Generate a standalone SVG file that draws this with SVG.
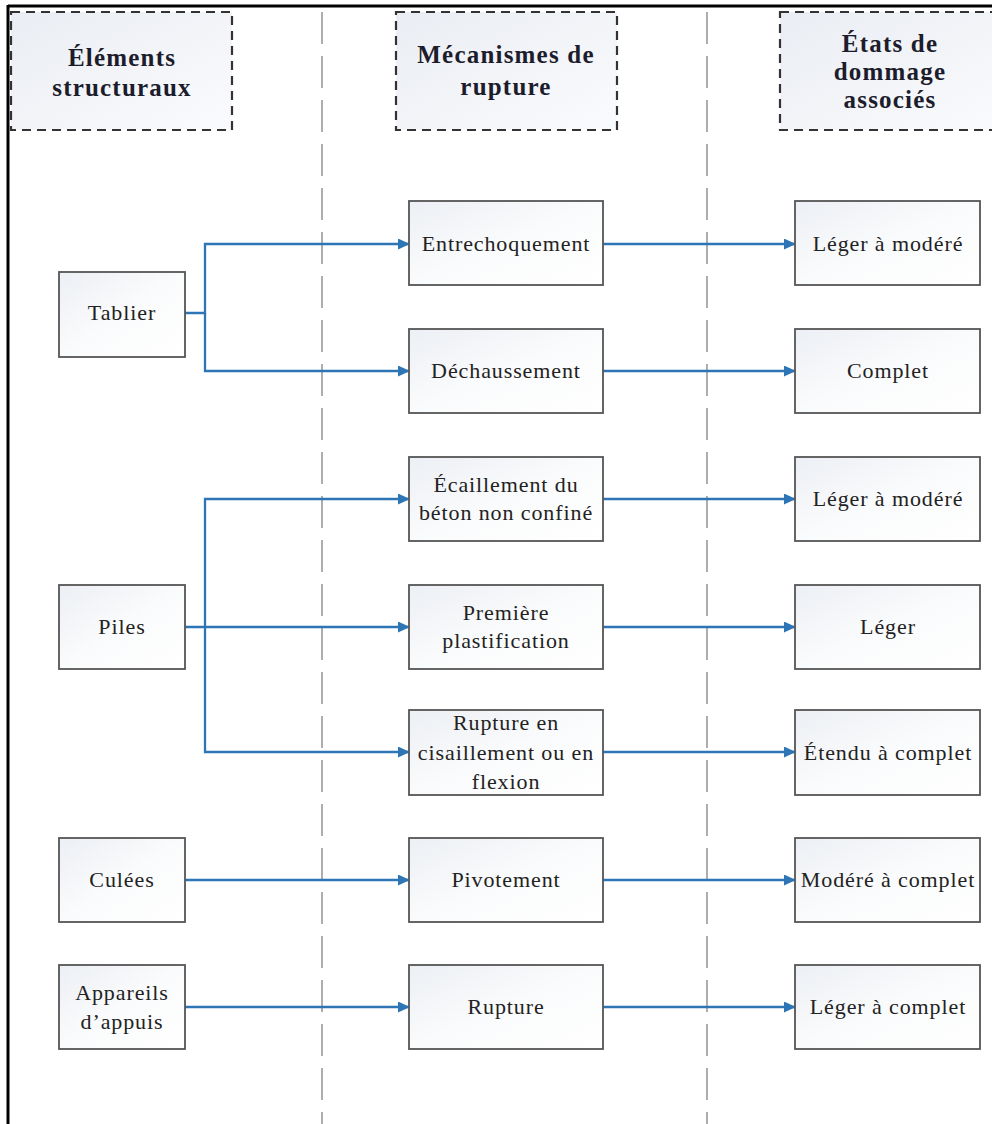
<svg xmlns="http://www.w3.org/2000/svg" width="992" height="1124" viewBox="0 0 992 1124">
<style>
.hdr{fill:url(#hg);stroke:#333;stroke-width:2.2;stroke-dasharray:9 6}
.box{fill:url(#bg);stroke:#555;stroke-width:1.8}
.ht{font-family:"Liberation Serif","Times New Roman",serif;font-weight:bold;font-size:25px;fill:#1c1c2c;text-anchor:middle;letter-spacing:1.2px}
.bt{font-family:"Liberation Serif","Times New Roman",serif;font-size:22px;fill:#222;text-anchor:middle;letter-spacing:0.9px}
.sep{stroke:#9a9a9a;stroke-width:1.6;stroke-dasharray:32 12;fill:none}
.con{stroke:#2E75B6;stroke-width:2.3;fill:none}
</style>
<defs>
<linearGradient id="bg" x1="0" y1="0" x2="1" y2="1">
<stop offset="0" stop-color="#eceff4"/>
<stop offset="0.5" stop-color="#fafbfc"/>
<stop offset="1" stop-color="#ffffff"/>
</linearGradient>
<linearGradient id="hg" x1="0" y1="0" x2="1" y2="1">
<stop offset="0" stop-color="#eaedf3"/>
<stop offset="1" stop-color="#fafbfd"/>
</linearGradient>
<marker id="ah" markerWidth="12" markerHeight="11" refX="11" refY="5.5" orient="auto" markerUnits="userSpaceOnUse">
<path d="M0,0 L12,5.5 L0,11 z" fill="#2E75B6"/>
</marker>
</defs>
<rect x="0" y="0" width="992" height="1124" fill="#ffffff"/>
<g id="frame">
<line x1="8" y1="6" x2="992" y2="6" stroke="#000" stroke-width="3"/>
<line x1="8" y1="5" x2="8" y2="1124" stroke="#000" stroke-width="3"/>
</g>
<g id="separators">
<line class="sep" x1="322" y1="12" x2="322" y2="1124"/>
<line class="sep" x1="707" y1="12" x2="707" y2="1124"/>
</g>
<g id="header-elements">
<rect class="hdr" x="11" y="12" width="221" height="118"/>
<text class="ht" x="122" y="66">Éléments</text>
<text class="ht" x="122" y="96">structuraux</text>
</g>
<g id="header-mecanismes">
<rect class="hdr" x="396" y="12" width="221" height="118"/>
<text class="ht" x="506" y="63">Mécanismes de</text>
<text class="ht" x="506" y="95">rupture</text>
</g>
<g id="header-etats">
<rect class="hdr" x="780" y="12" width="230" height="118"/>
<text class="ht" x="890" y="52">États de</text>
<text class="ht" x="890" y="80">dommage</text>
<text class="ht" x="890" y="108">associés</text>
</g>
<g id="connectors">
<polyline class="con" points="185,313 205,313 205,244 409,244" marker-end="url(#ah)"/>
<polyline class="con" points="205,313 205,371 409,371" marker-end="url(#ah)"/>
<polyline class="con" points="205,627 205,499 409,499" marker-end="url(#ah)"/>
<polyline class="con" points="185,627 409,627" marker-end="url(#ah)"/>
<polyline class="con" points="205,627 205,752 409,752" marker-end="url(#ah)"/>
<polyline class="con" points="185,880 409,880" marker-end="url(#ah)"/>
<polyline class="con" points="185,1007 409,1007" marker-end="url(#ah)"/>
<line class="con" x1="603" y1="244" x2="795" y2="244" marker-end="url(#ah)"/>
<line class="con" x1="603" y1="371" x2="795" y2="371" marker-end="url(#ah)"/>
<line class="con" x1="603" y1="499" x2="795" y2="499" marker-end="url(#ah)"/>
<line class="con" x1="603" y1="627" x2="795" y2="627" marker-end="url(#ah)"/>
<line class="con" x1="603" y1="752" x2="795" y2="752" marker-end="url(#ah)"/>
<line class="con" x1="603" y1="880" x2="795" y2="880" marker-end="url(#ah)"/>
<line class="con" x1="603" y1="1007" x2="795" y2="1007" marker-end="url(#ah)"/>
</g>
<g id="tablier"><rect class="box" x="59" y="272" width="126" height="85"/><text class="bt" x="122" y="320">Tablier</text></g>
<g id="piles"><rect class="box" x="59" y="585" width="126" height="84"/><text class="bt" x="122" y="634">Piles</text></g>
<g id="culees"><rect class="box" x="59" y="838" width="126" height="84"/><text class="bt" x="122" y="887">Culées</text></g>
<g id="appareils"><rect class="box" x="59" y="965" width="126" height="84"/><text class="bt" x="122" y="1000">Appareils</text><text class="bt" x="122" y="1029">d’appuis</text></g>
<g id="entrechoquement"><rect class="box" x="409" y="201" width="194" height="84"/><text class="bt" x="506" y="251">Entrechoquement</text></g>
<g id="dechaussement"><rect class="box" x="409" y="329" width="194" height="84"/><text class="bt" x="506" y="378">Déchaussement</text></g>
<g id="ecaillement"><rect class="box" x="409" y="457" width="194" height="84"/><text class="bt" x="506" y="492">Écaillement du</text><text class="bt" x="506" y="520">béton non confiné</text></g>
<g id="plastification"><rect class="box" x="409" y="585" width="194" height="84"/><text class="bt" x="506" y="620">Première</text><text class="bt" x="506" y="648">plastification</text></g>
<g id="rupture-cisaillement"><rect class="box" x="409" y="710" width="194" height="85"/><text class="bt" x="506" y="730">Rupture en</text><text class="bt" x="506" y="760">cisaillement ou en</text><text class="bt" x="506" y="789">flexion</text></g>
<g id="pivotement"><rect class="box" x="409" y="838" width="194" height="84"/><text class="bt" x="506" y="887">Pivotement</text></g>
<g id="rupture"><rect class="box" x="409" y="965" width="194" height="84"/><text class="bt" x="506" y="1014">Rupture</text></g>
<g id="leger-modere-1"><rect class="box" x="795" y="201" width="185" height="84"/><text class="bt" x="888" y="251">Léger à modéré</text></g>
<g id="complet"><rect class="box" x="795" y="329" width="185" height="84"/><text class="bt" x="888" y="378">Complet</text></g>
<g id="leger-modere-2"><rect class="box" x="795" y="457" width="185" height="84"/><text class="bt" x="888" y="506">Léger à modéré</text></g>
<g id="leger"><rect class="box" x="795" y="585" width="185" height="84"/><text class="bt" x="888" y="634">Léger</text></g>
<g id="etendu-complet"><rect class="box" x="795" y="710" width="185" height="85"/><text class="bt" x="888" y="760">Étendu à complet</text></g>
<g id="modere-complet"><rect class="box" x="795" y="838" width="185" height="84"/><text class="bt" x="888" y="887">Modéré à complet</text></g>
<g id="leger-complet"><rect class="box" x="795" y="965" width="185" height="84"/><text class="bt" x="888" y="1014">Léger à complet</text></g>
</svg>
